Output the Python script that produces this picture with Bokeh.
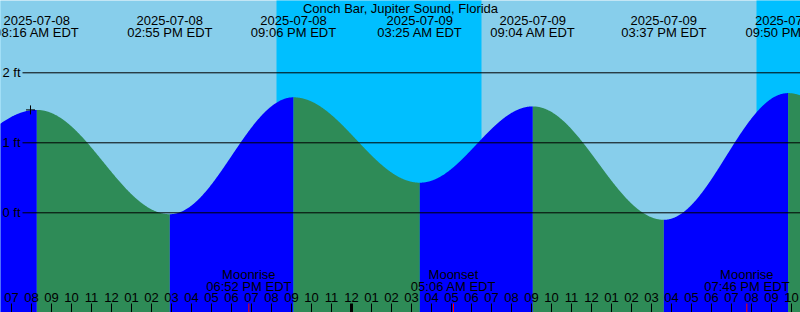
import numpy as np
import pandas as pd
from bokeh.plotting import figure
from bokeh.models import Range1d
from bokeh.core.properties import value
from bokeh.embed import file_html
from bokeh.resources import INLINE

# ---------------- data ----------------
title_text = "Conch Bar, Jupiter Sound, Florida"
# tide extremes, EDT, heights in ft (first and last lie outside the labelled window)
event_times = ["2025-07-08 01:58", "2025-07-08 08:16", "2025-07-08 14:55", "2025-07-08 21:06",
               "2025-07-09 03:25", "2025-07-09 09:04", "2025-07-09 15:37", "2025-07-09 21:50",
               "2025-07-10 04:05"]
event_heights = [0.45, 1.47, -0.02, 1.65, 0.43, 1.52, -0.10, 1.71, 0.30]
event_labelled = [False, True, True, True, True, True, True, True, False]
sunrise_times = ["2025-07-08 06:28", "2025-07-09 06:30"]
sunset_times = ["2025-07-08 20:15", "2025-07-09 20:15"]
moon_times = ["2025-07-08 18:52", "2025-07-09 05:06", "2025-07-09 19:46"]
moon_kinds = ["Moonrise", "Moonset", "Moonrise"]
level_ticks = [0, 1, 2]
level_labels = ["0 ft", "1 ft", "2 ft"]
tick_hours = list(range(7, 47))
tick_labels = ["%02d" % ((h % 12) or 12) for h in tick_hours]
mark_time = "2025-07-08 07:57"
mark_level = 1.47

# ---------------- helpers ----------------
BASE = pd.Timestamp("2025-07-08 00:00")


def hours(s):
    return (pd.Timestamp(s) - BASE) / pd.Timedelta(hours=1)


W, H = 800, 312
PX_PER_HOUR = 20.0
PX_PER_FT = 70.0
X_START = 6.45
X_END = X_START + W / PX_PER_HOUR
Y_ZERO_PX = 212.3
Y_TOP = Y_ZERO_PX / PX_PER_FT
Y_BOT = -(H - Y_ZERO_PX) / PX_PER_FT


def ypx(py):
    return (Y_ZERO_PX - py) / PX_PER_FT


def xpx(px):
    return X_START + px / PX_PER_HOUR


DAY = "#87CEEB"
NIGHT = "#00BFFF"
RISING = "#0000FF"
FALLING = "#2E8B57"
FONT = value("Liberation Sans")
FS = "13px"

p = figure(width=W, height=H, output_backend="svg", toolbar_location=None,
           x_range=Range1d(X_START, X_END), y_range=Range1d(Y_BOT, Y_TOP),
           x_axis_type=None, y_axis_type=None, min_border=0,
           min_border_left=0, min_border_right=0, min_border_top=0, min_border_bottom=0)
p.grid.visible = False
p.outline_line_color = None
p.background_fill_color = DAY
p.border_fill_color = DAY

# night shading
sr = [hours(t) for t in sunrise_times]
ss = [hours(t) for t in sunset_times]
night_left = [X_START] + ss
night_right = sr + [X_END]
p.quad(left=night_left, right=night_right, bottom=Y_BOT - 1, top=Y_TOP + 1,
       fill_color=NIGHT, line_color=None)

# tide curve, filled by rising/falling
et = [hours(t) for t in event_times]
for i in range(len(et) - 1):
    t0, t1 = et[i], et[i + 1]
    h0, h1 = event_heights[i], event_heights[i + 1]
    tt = np.linspace(t0, t1, 300)
    hh = h0 + (h1 - h0) * (1 - np.cos(np.pi * (tt - t0) / (t1 - t0))) / 2
    col = RISING if h1 > h0 else FALLING
    p.varea(x=tt, y1=np.full_like(tt, Y_BOT - 1), y2=hh, fill_color=col)

# level lines and labels
p.segment(x0=[xpx(22)] * len(level_ticks), x1=[X_END + 1] * len(level_ticks),
          y0=level_ticks, y1=level_ticks, line_color="black", line_width=1)
p.text(x=[xpx(2)] * len(level_ticks), y=level_ticks, text=level_labels,
       text_font=FONT, text_font_size=FS, text_align="left", text_baseline="middle",
       text_color="black")

# mark
p.scatter(x=[hours(mark_time)], y=[mark_level], marker="cross", size=9,
          line_color="black", line_width=1)

# hour ticks
tick_w = [3 if h % 24 == 0 else 1 for h in tick_hours]
p.segment(x0=tick_hours, x1=tick_hours, y0=[ypx(303)] * len(tick_hours),
          y1=[Y_BOT - 0.1] * len(tick_hours), line_color="black", line_width=tick_w)
p.text(x=tick_hours, y=[ypx(297)] * len(tick_hours), text=tick_labels,
       text_font=FONT, text_font_size=FS, text_align="center", text_baseline="middle",
       text_color="black")

# moon events
mt = [hours(t) for t in moon_times]
p.segment(x0=mt, x1=mt, y0=[ypx(303)] * len(mt), y1=[Y_BOT - 0.1] * len(mt),
          line_color="#FF0000", line_width=1)
moon_time_txt = [pd.Timestamp(t).strftime("%I:%M %p EDT") for t in moon_times]
p.text(x=mt, y=[ypx(273.5)] * len(mt), text=moon_kinds, text_font=FONT, text_font_size=FS,
       text_align="center", text_baseline="middle", text_color="black")
p.text(x=mt, y=[ypx(285.5)] * len(mt), text=moon_time_txt, text_font=FONT, text_font_size=FS,
       text_align="center", text_baseline="middle", text_color="black")

# event labels at top
lab_t = [et[i] for i in range(len(et)) if event_labelled[i]]
lab_date = [pd.Timestamp(event_times[i]).strftime("%Y-%m-%d") for i in range(len(et)) if event_labelled[i]]
lab_time = [pd.Timestamp(event_times[i]).strftime("%I:%M %p EDT") for i in range(len(et)) if event_labelled[i]]
p.text(x=lab_t, y=[ypx(19.5)] * len(lab_t), text=lab_date, text_font=FONT, text_font_size=FS,
       text_align="center", text_baseline="middle", text_color="black")
p.text(x=lab_t, y=[ypx(31.5)] * len(lab_t), text=lab_time, text_font=FONT, text_font_size=FS,
       text_align="center", text_baseline="middle", text_color="black")

# title
p.text(x=[(X_START + X_END) / 2], y=[ypx(7.5)], text=[title_text], text_font=FONT,
       text_font_size=FS, text_align="center", text_baseline="middle", text_color="black")

open("out.html", "w").write(file_html(p, INLINE))
